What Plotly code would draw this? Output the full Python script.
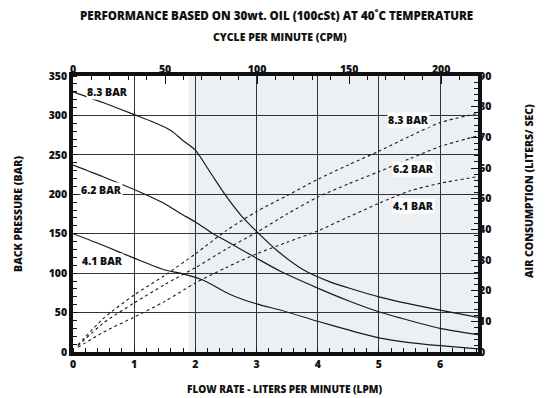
import plotly.graph_objects as go

# ---------------- data ----------------
# Back pressure (BAR) vs flow rate (LPM), solid curves, left axis
lpm_83 = [0, 0.5, 1.0, 1.3, 1.6, 1.8, 2.0, 2.25, 2.5, 2.75, 3.0, 3.33, 3.75, 4.2, 4.6, 5.0, 5.5, 6.0, 6.62]
bp_83 = [330, 316, 301, 292, 281, 268, 256, 227, 198, 173, 153, 129, 105, 89, 79, 70, 61, 53, 44]

lpm_62 = [0, 0.5, 1.0, 1.5, 1.75, 2.0, 2.25, 2.5, 3.0, 3.4, 4.0, 4.5, 5.0, 5.5, 6.0, 6.62]
bp_62 = [237, 222, 206, 188, 176, 165, 152, 141, 119, 102, 81, 65, 51, 40, 30, 22]

lpm_41 = [0, 0.5, 1.0, 1.5, 1.75, 2.13, 2.57, 3.0, 3.4, 4.0, 4.5, 5.0, 5.5, 6.0, 6.62]
bp_41 = [150, 135, 119, 104, 100, 91, 73, 61, 53, 39, 28, 18, 12, 8, 4]

# Air consumption (LITERS/SEC) vs flow rate (LPM), dashed curves, right axis
air_lpm = [0.08, 0.5, 1.0, 1.5, 2.0, 2.5, 3.0, 3.5, 4.0, 4.5, 5.0, 5.5, 6.0, 6.62]
air_83 = [2.3, 11, 18.6, 25, 32, 39.5, 45.8, 51, 56.3, 61, 65.5, 70.3, 74.8, 77.8]
air_62 = [2.0, 9.5, 16, 22, 27.5, 33.5, 39, 45, 50.5, 54.8, 58.8, 63, 67, 70.5]
air_41 = [1.5, 6.5, 11.4, 16.5, 22.5, 27.5, 32, 35.8, 39.5, 44, 48.5, 52.5, 55, 57.2]

curve_labels = ["8.3 BAR", "6.2 BAR", "4.1 BAR"]

lpm_ticks = [0, 1, 2, 3, 4, 5, 6]
bar_ticks = [0, 50, 100, 150, 200, 250, 300, 350]
air_ticks = [0, 10, 20, 30, 40, 50, 60, 70, 80, 90]
cpm_ticks = [0, 50, 100, 150, 200]

shade_start_lpm = 1.89

# ---------------- figure ----------------
FONT = "Open Sans"
BOLD = dict(family=FONT, size=10.5, color="#111", weight=800)
LINE = "#1a1a1a"

fig = go.Figure()

for xs, ys in [(lpm_83, bp_83), (lpm_62, bp_62), (lpm_41, bp_41)]:
    fig.add_trace(go.Scatter(x=xs, y=ys, mode="lines", xaxis="x", yaxis="y",
                             line=dict(color=LINE, width=1.2, shape="spline", smoothing=0.7),
                             hoverinfo="skip", showlegend=False))

for ys in [air_83, air_62, air_41]:
    fig.add_trace(go.Scatter(x=air_lpm, y=ys, mode="lines", xaxis="x", yaxis="y2",
                             line=dict(color=LINE, width=1.1, dash="3px,3px", shape="spline", smoothing=0.7),
                             hoverinfo="skip", showlegend=False))

# carrier trace for the top CPM axis
fig.add_trace(go.Scatter(x=cpm_ticks, y=[None] * len(cpm_ticks), mode="lines",
                         xaxis="x2", yaxis="y", hoverinfo="skip", showlegend=False))

tickfont = dict(family=FONT, size=10.5, color="#111", weight=800)

# the page body has an 8px margin, so the figure is made 8px smaller
fig.update_layout(
    width=539, height=390,
    margin=dict(l=65, r=69, t=68, b=46, autoexpand=False),
    paper_bgcolor="white", plot_bgcolor="white",
    font=dict(family=FONT, size=10.5, color="#111"),
    xaxis=dict(range=[0, 6.62], tickvals=lpm_ticks, tickfont=tickfont,
               showgrid=True, gridcolor="#333", gridwidth=1,
               showline=True, linecolor="#111", linewidth=3.5, mirror=True,
               ticks="", zeroline=False,
               minor=dict(dtick=0.2, ticks="inside", ticklen=4, tickcolor="#111", showgrid=False)),
    xaxis2=dict(range=[0, 220], overlaying="x", side="top", anchor="y",
                tickvals=cpm_ticks, tickfont=tickfont, showgrid=False, zeroline=False,
                ticks="inside", ticklen=8, tickcolor="#111", tickwidth=1,
                minor=dict(dtick=10, ticks="inside", ticklen=4, tickcolor="#111")),
    yaxis=dict(range=[0, 350], tickvals=bar_ticks, tickfont=tickfont,
               showgrid=True, gridcolor="#333", gridwidth=1,
               showline=True, linecolor="#111", linewidth=3.5, mirror=True,
               ticks="", zeroline=False,
               minor=dict(dtick=10, ticks="inside", ticklen=4, tickcolor="#111", showgrid=False)),
    yaxis2=dict(range=[0, 90], overlaying="y", side="right", anchor="x",
                tickvals=air_ticks, tickfont=tickfont, showgrid=False, zeroline=False,
                ticks="inside", ticklen=7, tickcolor="#111",
                minor=dict(dtick=2, ticks="inside", ticklen=4, tickcolor="#111")),
    shapes=[dict(type="rect", xref="x", yref="paper", x0=shade_start_lpm, x1=6.62, y0=0, y1=1,
                 fillcolor="#edf0f2", line=dict(width=0), layer="below")],
)

ann = []
C = dict(xanchor="center", yanchor="middle", showarrow=False)
# titles
ann.append(dict(text="PERFORMANCE BASED ON 30wt. OIL (100cSt) AT 40˚C TEMPERATURE",
                xref="paper", yref="paper", x=0.502, y=1.2175, borderpad=0,
                font=dict(family=FONT, size=11.6, color="#111", weight=800), **C))
ann.append(dict(text="CYCLE PER MINUTE (CPM)", xref="paper", yref="paper", x=0.511, y=1.1413,
                font=BOLD, **C))
ann.append(dict(text="FLOW RATE - LITERS PER MINUTE (LPM)", xref="paper", yref="paper", x=0.523, y=-0.134,
                font=dict(family=FONT, size=10, color="#111", weight=800), **C))
ann.append(dict(text="BACK PRESSURE (BAR)", xref="paper", yref="paper", x=-0.136, y=0.5,
                textangle=-90, font=BOLD, **C))
ann.append(dict(text="AIR CONSUMPTION (LITERS/ SEC)", xref="paper", yref="paper", x=1.126, y=0.583,
                textangle=-90, font=BOLD, **C))

# curve labels (left: back pressure, right: air consumption)
left_pos = [(0.556, 329.5), (0.47, 206), (0.49, 115)]
right_pos = [(5.49, 75.5), (5.56, 59.8), (5.57, 47.7)]
for lab, (lx, ly) in zip(curve_labels, left_pos):
    ann.append(dict(text=lab, x=lx, y=ly, xref="x", yref="y",
                    bgcolor="white", borderpad=0, font=BOLD, **C))
for lab, (rx, ry) in zip(curve_labels, right_pos):
    ann.append(dict(text=lab, x=rx, y=ry, xref="x", yref="y2",
                    bgcolor="white", borderpad=0, font=BOLD, **C))

fig.update_layout(annotations=ann)
fig.write_html("out.html")
